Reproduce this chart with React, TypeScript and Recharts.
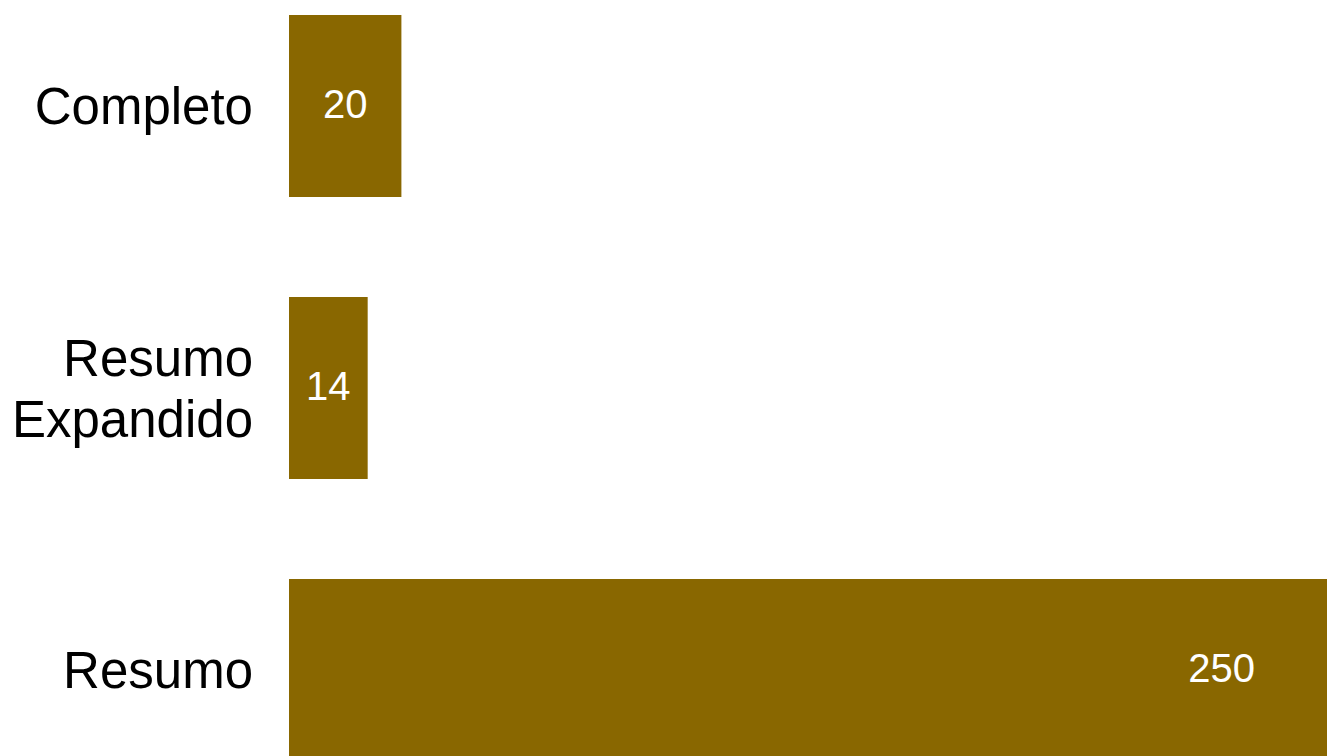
import React from "react";
import { BarChart, Bar, XAxis, YAxis, LabelList } from "recharts";

const categories = ["Completo", "Resumo Expandido", "Resumo"];
const counts = [20, 14, 250];
const axisMax = 250;

const data = categories.map((name, i) => ({ name, value: counts[i] }));

const VIEW_W = 1327;
const VIEW_H = 756;
const BAR_COLOR = "#896700";
const FONT = "'Liberation Sans', Arial, Helvetica, sans-serif";
const TICK_FONT = 51;
const LINE_H = 61;

const CategoryTick = (props: any) => {
  const { x, y, payload } = props;
  const text: string = String(payload.value);
  const lines = text.length > 12 ? text.split(" ") : [text];
  const firstBaseline = y + TICK_FONT * 0.355 - ((lines.length - 1) / 2) * LINE_H;
  return (
    <text
      x={x}
      y={firstBaseline}
      textAnchor="end"
      fontSize={TICK_FONT}
      fill="#000000"
      fontFamily={FONT}
    >
      {lines.map((ln, i) => (
        <tspan key={i} x={x} dy={i === 0 ? 0 : LINE_H}>
          {ln}
        </tspan>
      ))}
    </text>
  );
};

const ValueLabel = (props: any) => {
  const { x, y, width, height, value } = props;
  const end = x + width;
  const cy = y + height / 2 + 12;
  if (end > VIEW_W) {
    return (
      <text x={VIEW_W - 72} y={cy} textAnchor="end" fill="#ffffff" fontSize={40} fontFamily={FONT}>
        {value}
      </text>
    );
  }
  return (
    <text x={x + width / 2} y={cy} textAnchor="middle" fill="#ffffff" fontSize={40} fontFamily={FONT}>
      {value}
    </text>
  );
};

export default function App() {
  return (
    <div
      style={{
        position: "fixed",
        left: 0,
        top: 0,
        width: VIEW_W,
        height: VIEW_H,
        overflow: "hidden",
        background: "#ffffff",
      }}
    >
      <div style={{ position: "absolute", left: 0, top: -35 }}>
        <BarChart
          width={1694}
          height={846}
          data={data}
          layout="vertical"
          margin={{ top: 0, right: 0, bottom: 0, left: 0 }}
        >
          <XAxis type="number" domain={[0, axisMax]} hide />
          <YAxis
            type="category"
            dataKey="name"
            width={289}
            axisLine={false}
            tickLine={false}
            tickSize={0}
            tickMargin={36}
            tick={<CategoryTick />}
            interval={0}
          />
          <Bar dataKey="value" fill={BAR_COLOR} barSize={182} isAnimationActive={false}>
            <LabelList dataKey="value" content={<ValueLabel />} />
          </Bar>
        </BarChart>
      </div>
    </div>
  );
}
